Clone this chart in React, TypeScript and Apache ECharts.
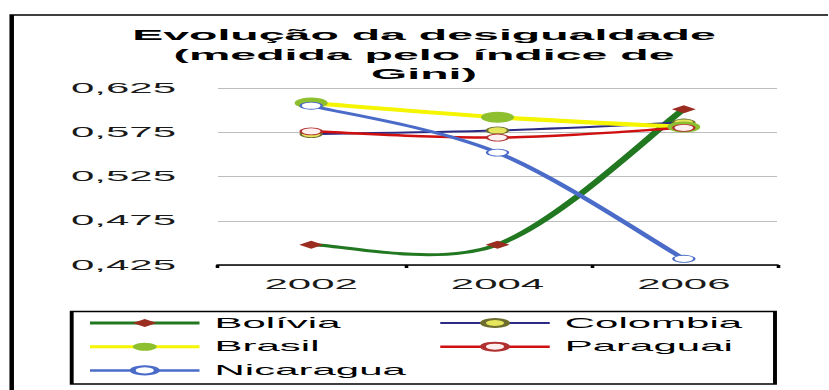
import React, { useEffect, useRef } from "react";
import * as echarts from "echarts";

// Horizontal stretch of the reference picture
const S = 3;
const W = 829 / S;
const H = 390;

const years = ["2002", "2004", "2006"];
const titleLines = ["Evolução da desigualdade", "(medida pelo índice de", "Gini)"];
const yMin = 0.425;
const yMax = 0.625;
const yStep = 0.05;

const countries = ["Bolívia", "Colombia", "Brasil", "Paraguai", "Nicaragua"];
const bolivia = [0.448, 0.448, 0.601];
const colombia = [0.573, 0.577, 0.586];
const brasil = [0.608, 0.592, 0.581];
const paraguai = [0.576, 0.569, 0.58];
const nicaragua = [0.605, 0.552, 0.432];
const values = [bolivia, colombia, brasil, paraguai, nicaragua];

const legendLeft = ["Bolívia", "Brasil", "Nicaragua"];
const legendRight = ["Colombia", "Paraguai"];

const FONT = '"Liberation Sans", Arial, sans-serif';

type Sty = {
  line: string;
  width: number;
  symbol: string;
  size: number;
  fill: string;
  border: string;
  bw: number;
};
const styles: Record<string, Sty> = {
  "Bolívia": { line: "#217821", width: 3, symbol: "diamond", size: 8, fill: "#9b2d20", border: "#9b2d20", bw: 0 },
  Colombia: { line: "#2b2b86", width: 2, symbol: "circle", size: 7, fill: "#e6e65c", border: "#6d6d2e", bw: 0.8 },
  Brasil: { line: "#f5f500", width: 4, symbol: "circle", size: 11, fill: "#8dbf2e", border: "#8dbf2e", bw: 0 },
  Paraguai: { line: "#d01010", width: 2.5, symbol: "circle", size: 7, fill: "#fff0f0", border: "#b03030", bw: 0.8 },
  Nicaragua: { line: "#4a6bc8", width: 2.5, symbol: "circle", size: 7, fill: "#ffffff", border: "#4a6bc8", bw: 0.8 },
};

// Smoothed line (Catmull-Rom style, like a spreadsheet's smoothed line), drawn with the axis scales
function curveSeries(name: string, vals: number[]) {
  const st = styles[name];
  return {
    type: "custom",
    id: "curve-" + name,
    silent: true,
    coordinateSystem: "cartesian2d",
    data: vals.map((v, i) => [i, v]),
    encode: { x: 0, y: 1 },
    renderItem: (params: any, api: any) => {
      if (params.dataIndex !== 0) return null;
      const P = vals.map((v, i) => api.coord([i, v]));
      const n = P.length;
      const children: any[] = [];
      const k = 1 / 6;
      for (let i = 0; i < n - 1; i++) {
        const a = P[i];
        const b = P[i + 1];
        const pa = P[Math.max(0, i - 1)];
        const nb = P[Math.min(n - 1, i + 2)];
        const cp1 = [a[0] + (b[0] - pa[0]) * k, a[1] + (b[1] - pa[1]) * k];
        const cp2 = [b[0] - (nb[0] - a[0]) * k, b[1] - (nb[1] - a[1]) * k];
        children.push({
          type: "bezierCurve",
          shape: {
            x1: a[0], y1: a[1],
            cpx1: cp1[0], cpy1: cp1[1],
            cpx2: cp2[0], cpy2: cp2[1],
            x2: b[0], y2: b[1],
          },
          style: { stroke: st.line, lineWidth: st.width, fill: "none", lineCap: "round" },
        });
      }
      return { type: "group", children };
    },
    z: 2,
  };
}

function markerSeries(name: string, vals: number[]) {
  const st = styles[name];
  return {
    type: "line",
    name,
    data: vals,
    symbol: st.symbol,
    symbolSize: st.size,
    showSymbol: true,
    lineStyle: { color: st.line, width: st.width, opacity: 0 },
    itemStyle: { color: st.fill, borderColor: st.border, borderWidth: st.bw },
    emphasis: { disabled: true },
    z: 2,
  };
}

function legendItem(name: string) {
  const st = styles[name];
  return {
    name,
    lineStyle: { color: st.line, width: Math.min(st.width, 3), opacity: 1 },
  };
}

export default function App() {
  const ref = useRef<HTMLDivElement>(null);

  useEffect(() => {
    if (!ref.current) return;
    const chart = echarts.init(ref.current, null, { renderer: "svg" });
    const legendText = {
      fontSize: 14,
      fontFamily: FONT,
      color: "#000",
      lineHeight: 14,
    };
    const series: any[] = [];
    countries.forEach((c, i) => {
      series.push(curveSeries(c, values[i]));
      series.push(markerSeries(c, values[i]));
    });
    chart.setOption({
      animation: false,
      backgroundColor: "#fff",
      grid: {
        left: 218 / S,
        right: W - 778 / S,
        top: 88,
        bottom: 125,
        containLabel: false,
        outerBoundsMode: "none",
      },
      xAxis: {
        type: "category",
        data: years,
        boundaryGap: true,
        axisLine: { lineStyle: { color: "#000", width: 1.5 } },
        axisTick: { show: true, length: 3, lineStyle: { color: "#000", width: 1.2 } },
        axisLabel: { margin: 12, fontSize: 14, fontFamily: FONT, color: "#1a1a1a" },
        splitLine: { show: false },
      },
      yAxis: {
        type: "value",
        min: yMin,
        max: yMax,
        interval: yStep,
        axisLine: { show: false },
        axisTick: { show: false },
        axisLabel: {
          margin: 14,
          fontSize: 14,
          fontFamily: FONT,
          color: "#1a1a1a",
          formatter: (v: number) => v.toFixed(3).replace(".", ","),
        },
        splitLine: { lineStyle: { color: "#bdbdbd", width: 1 } },
      },
      legend: [
        {
          orient: "vertical",
          left: 28.5,
          top: 316,
          padding: 0,
          itemWidth: 36.5,
          itemHeight: 10,
          itemGap: 9.7,
          selectedMode: false,
          data: legendLeft.map(legendItem),
          textStyle: legendText,
        },
        {
          orient: "vertical",
          left: 145.5,
          top: 316,
          padding: 0,
          itemWidth: 36.5,
          itemHeight: 10,
          itemGap: 9.7,
          selectedMode: false,
          data: legendRight.map(legendItem),
          textStyle: legendText,
        },
      ],
      graphic: [
        {
          type: "rect",
          silent: true,
          shape: { x: 3.9, y: 15, width: 400, height: 400 },
          style: { fill: "none", stroke: "#000", lineWidth: 1.5 },
        },
        {
          type: "rect",
          silent: true,
          shape: { x: 71.7 / S, y: 311.5, width: (775 - 71.7) / S, height: 72.5 },
          style: { fill: "none", stroke: "#000", lineWidth: 1.3 },
        },
        {
          type: "text",
          silent: true,
          x: 424 / S,
          y: 25,
          style: {
            text: titleLines.join("\n"),
            fontSize: 15.5,
            fontWeight: "bold",
            fontFamily: FONT,
            lineHeight: 19.5,
            align: "center",
            verticalAlign: "top",
            fill: "#000",
          },
        },
      ],
      series,
    });
    return () => chart.dispose();
  }, []);

  return (
    <div
      ref={ref}
      style={{
        position: "absolute",
        left: 0,
        top: 0,
        width: W,
        height: H,
        transform: `scaleX(${S})`,
        transformOrigin: "0 0",
      }}
    />
  );
}
